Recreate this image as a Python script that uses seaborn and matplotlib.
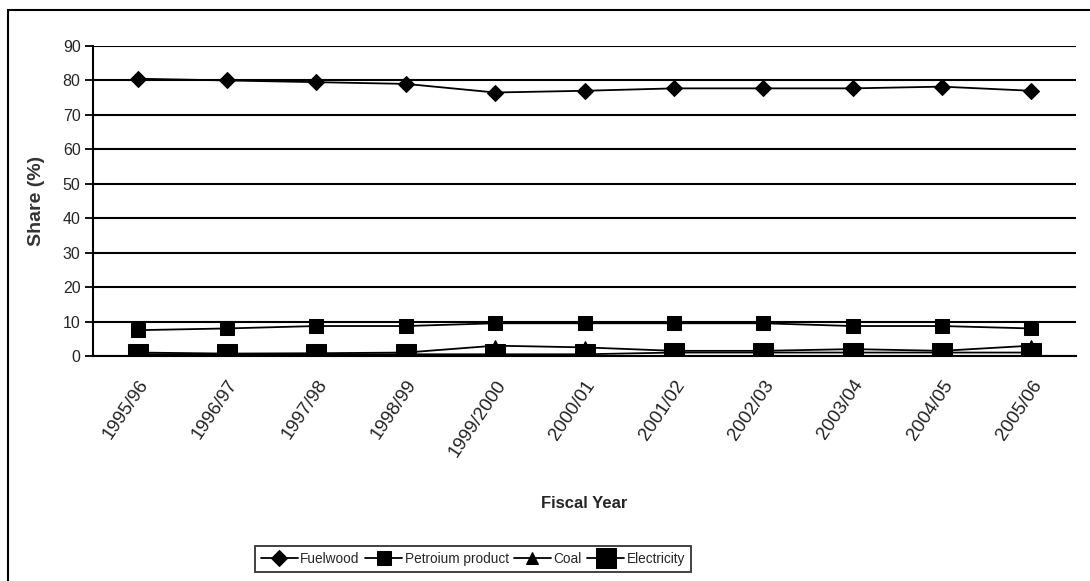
import matplotlib
matplotlib.use("Agg")
import matplotlib.pyplot as plt
import seaborn as sns
from matplotlib.patches import Rectangle

years = ["1995/96", "1996/97", "1997/98", "1998/99", "1999/2000", "2000/01",
         "2001/02", "2002/03", "2003/04", "2004/05", "2005/06"]
fuelwood = [80.5, 80.0, 79.5, 79.0, 76.5, 77.0, 77.7, 77.7, 77.7, 78.2, 77.0]
petroleum = [7.5, 8.0, 8.7, 8.7, 9.5, 9.5, 9.5, 9.5, 8.7, 8.7, 8.0]
coal = [1.0, 0.7, 0.8, 1.0, 3.0, 2.5, 1.5, 1.5, 2.0, 1.5, 3.0]
electricity = [0.5, 0.5, 0.5, 0.5, 0.5, 0.5, 1.0, 1.0, 1.0, 1.0, 1.0]

sns.set_style("white")
plt.rcParams['font.family'] = ['Liberation Sans', 'DejaVu Sans']

fig = plt.figure(figsize=(10.9, 5.81), dpi=100)
ax = fig.add_axes([93 / 1090, 1 - 356 / 581, (1076 - 93) / 1090, (356 - 46) / 581])

pos = list(range(len(years)))
series = [
    ("Fuelwood", fuelwood, "D", 8),
    ("Petroium product", petroleum, "s", 9.5),
    ("Coal", coal, "^", 8),
    ("Electricity", electricity, "s", 15),
]
for name, vals, mk, ms in series:
    sns.lineplot(x=pos, y=vals, ax=ax, color="black", marker=mk, markersize=ms,
                 markeredgecolor="black", linewidth=1.3, label=name)

ax.set_xlim(-0.5, len(years) - 0.5)
ax.set_ylim(0, 90)
ax.set_yticks(range(0, 91, 10))
ax.yaxis.grid(True, color="black", linewidth=1.5)
ax.set_axisbelow(True)
for s in ["top", "right"]:
    ax.spines[s].set_visible(False)
for s in ["left", "bottom"]:
    ax.spines[s].set_linewidth(1.5)
    ax.spines[s].set_color("black")

ax.set_xticks(pos)
ax.set_xticklabels(years, rotation=56, ha="right", va="top", rotation_mode="anchor",
                   fontsize=13.5, color="#222222")
ax.set_xticks([p + 0.5 for p in [-1] + pos], minor=True)
ax.tick_params(axis="x", which="major", length=0, pad=15)
ax.tick_params(axis="x", which="minor", length=6, width=1.3, color="black", direction="out")
ax.tick_params(axis="y", which="major", length=6, width=1.3, color="black",
               direction="out", labelsize=11.5, left=True, pad=3)

ax.set_ylabel("Share (%)", fontsize=14, fontweight="bold", color="#333333")
ax.yaxis.set_label_coords(-0.049, 0.5)
ax.set_xlabel("Fiscal Year", fontsize=12, fontweight="bold")
ax.xaxis.set_label_coords(0.5, -0.45)

ax.legend(loc="center", bbox_to_anchor=(473 / 1090, 1 - 559 / 581), bbox_transform=fig.transFigure,
          ncol=4, frameon=True, fancybox=False, edgecolor="black", fontsize=9.8,
          handlelength=2.7, handletextpad=0.2, columnspacing=0.4, borderpad=0.45)
ax.get_legend().get_frame().set_linewidth(1.3)

fig.patches.append(Rectangle((8 / 1090, -0.05), 1.1, 1 - 10 / 581 + 0.05, transform=fig.transFigure,
                             fill=False, edgecolor="black", linewidth=1.5))

fig.savefig("out.png", dpi=100)
